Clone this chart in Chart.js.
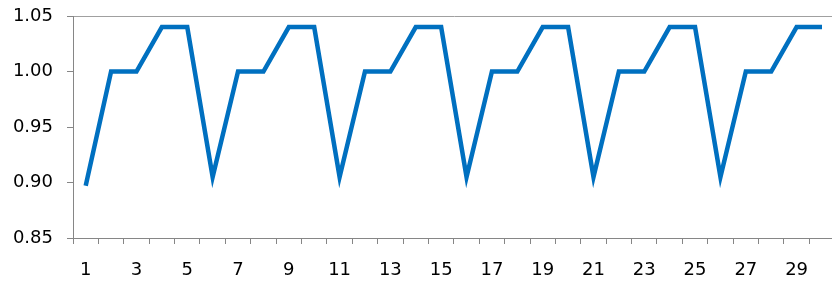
<!DOCTYPE html>
<html>
<head>
<meta charset="utf-8">
<script src="https://cdn.jsdelivr.net/npm/chart.js@4.4.0/dist/chart.umd.min.js"></script>
<style>
html,body{margin:0;padding:0;background:#fff;overflow:hidden}
#wrap{position:relative;width:838px;height:284px}
</style>
</head>
<body>
<div id="wrap"><canvas id="chart"></canvas></div>
<script>
// categories 1..30
const days=['1','2','3','4','5','6','7','8','9','10','11','12','13','14','15','16','17','18','19','20','21','22','23','24','25','26','27','28','29','30'];
// series
const ratio=[0.897,1.00,1.00,1.04,1.04,0.905,1.00,1.00,1.04,1.04,0.905,1.00,1.00,1.04,1.04,0.905,1.00,1.00,1.04,1.04,0.905,1.00,1.00,1.04,1.04,0.905,1.00,1.00,1.04,1.04];
const yTicks=[0.85,0.90,0.95,1.00,1.05];

const axisGrey='#868686';
const font={family:'"DejaVu Sans", sans-serif',size:18};

new Chart(document.getElementById('chart'),{
  type:'line',
  data:{labels:days,datasets:[{data:ratio,borderColor:'#0070C0',borderWidth:4.5,pointRadius:0,tension:0,borderJoinStyle:'miter',fill:false}]},
  options:{
    responsive:true,maintainAspectRatio:false,animation:false,
    layout:{autoPadding:false,padding:{top:16,right:0,bottom:0,left:0}},
    plugins:{legend:{display:false},tooltip:{enabled:false}},
    scales:{
      x:{
        offset:true,
        grid:{offset:true,drawOnChartArea:false,tickLength:6,color:axisGrey},
        border:{color:axisGrey,width:1},
        ticks:{color:'#000',font,autoSkip:false,maxRotation:0,padding:16,
          callback:(v,i)=>i%2===0?days[i]:''},
        afterFit:s=>{s.height=46}
      },
      y:{
        min:yTicks[0],max:yTicks[yTicks.length-1],
        afterBuildTicks:s=>{s.ticks=yTicks.map(v=>({value:v}))},
        grid:{tickLength:6,tickColor:axisGrey,
          color:c=>c.tick&&c.tick.value===1.05?'#a0a0a0':'rgba(0,0,0,0)'},
        border:{color:axisGrey,width:1},
        ticks:{color:'#000',font,padding:14,callback:v=>v.toFixed(2)},
        afterFit:s=>{s.width=73;s.paddingTop=0;s.paddingBottom=0}
      }
    }
  }
});
</script>
</body>
</html>
